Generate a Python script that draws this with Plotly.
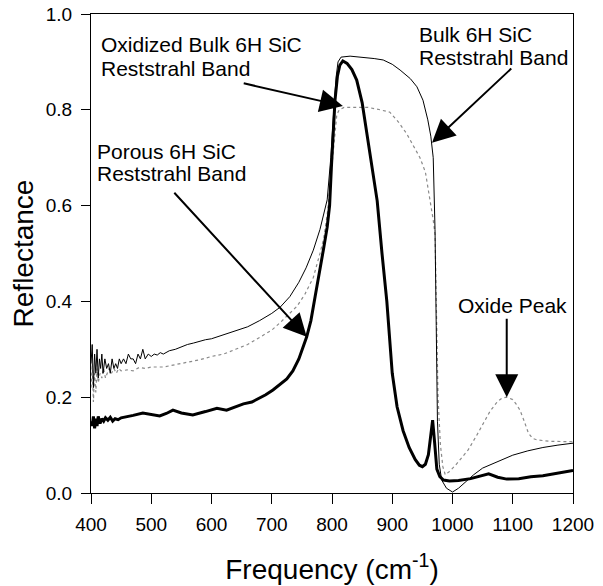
import plotly.graph_objects as go

# Reflectance spectra (frequency in cm^-1)
bulk_freq = [400, 402, 404, 406, 408, 410, 412, 414, 416, 418, 420, 423, 426, 429, 432, 435, 438,
             441, 444, 447, 450, 454, 458, 462, 466, 470, 474, 478, 482, 486, 490, 495, 500, 505,
             510, 515, 520, 530, 540, 550, 560, 570, 580, 590, 600, 620, 640, 660, 680, 700, 714,
             730, 745, 757, 769, 780, 792, 798, 803, 807, 810, 815, 830, 850, 870, 885, 900, 913,
             930, 941, 951, 959, 964, 968, 971, 973, 975, 978, 982, 990, 1000, 1010, 1020, 1035,
             1050, 1075, 1100, 1125, 1150, 1175, 1200]
bulk_refl = [0.27, 0.31, 0.22, 0.29, 0.25, 0.30, 0.24, 0.28, 0.26, 0.29, 0.25, 0.28, 0.26, 0.27,
             0.25, 0.28, 0.26, 0.27, 0.26, 0.28, 0.27, 0.28, 0.27, 0.29, 0.28, 0.28, 0.27, 0.29,
             0.28, 0.30, 0.28, 0.29, 0.285, 0.29, 0.288, 0.293, 0.29, 0.297, 0.30, 0.305, 0.31,
             0.313, 0.317, 0.32, 0.322, 0.33, 0.338, 0.347, 0.36, 0.375, 0.388, 0.41, 0.44, 0.47,
             0.507, 0.55, 0.612, 0.70, 0.80, 0.87, 0.90, 0.91, 0.912, 0.91, 0.907, 0.904, 0.895,
             0.883, 0.865, 0.848, 0.82, 0.779, 0.745, 0.70, 0.55, 0.35, 0.15, 0.06, 0.027, 0.01,
             0.002, 0.01, 0.022, 0.038, 0.052, 0.066, 0.079, 0.088, 0.095, 0.10, 0.104]

oxid_freq = [400, 402, 404, 406, 408, 410, 412, 415, 418, 421, 424, 427, 430, 434, 438, 442, 446,
             450, 460, 470, 480, 490, 500, 520, 540, 560, 580, 600, 620, 640, 660, 680, 700, 715,
             730, 742, 755, 769, 780, 786, 792, 798, 803, 808, 812, 820, 840, 860, 880, 896, 910,
             924, 935, 946, 955, 963, 968, 971, 974, 976, 980, 984, 988, 995, 1005, 1017, 1026,
             1040, 1051, 1062, 1074, 1082, 1090, 1100, 1106, 1112, 1119, 1126, 1133, 1140, 1160,
             1180, 1200]
oxid_refl = [0.22, 0.27, 0.19, 0.25, 0.21, 0.26, 0.23, 0.25, 0.24, 0.26, 0.24, 0.25, 0.26, 0.25,
             0.26, 0.25, 0.26, 0.255, 0.257, 0.255, 0.262, 0.26, 0.263, 0.263, 0.268, 0.272, 0.278,
             0.285, 0.29, 0.30, 0.31, 0.325, 0.34, 0.357, 0.375, 0.39, 0.415, 0.45, 0.50, 0.53,
             0.58, 0.66, 0.74, 0.79, 0.80, 0.805, 0.805, 0.805, 0.80, 0.795, 0.775, 0.75, 0.725,
             0.70, 0.67, 0.61, 0.57, 0.54, 0.33, 0.20, 0.10, 0.055, 0.038, 0.045, 0.058, 0.075,
             0.09, 0.12, 0.146, 0.17, 0.19, 0.198, 0.200, 0.195, 0.185, 0.173, 0.15, 0.125, 0.114,
             0.111, 0.108, 0.108, 0.107]

porous_freq = [400, 402, 404, 406, 408, 410, 412, 415, 418, 421, 424, 428, 432, 436, 440, 445,
               450, 460, 470, 486, 500, 514, 525, 536, 550, 569, 590, 609, 625, 640, 653, 667,
               680, 690, 702, 712, 725, 735, 745, 758, 765, 772, 780, 786, 792, 796, 799, 802,
               805, 809, 813, 818, 825, 833, 841, 850, 858, 866, 875, 883, 891, 900, 908, 918,
               928, 938, 945, 950, 955, 960, 964, 967, 970, 974, 979, 985, 995, 1010, 1030, 1045,
               1060, 1075, 1090, 1110, 1130, 1150, 1175, 1200]
porous_refl = [0.15, 0.14, 0.16, 0.135, 0.155, 0.14, 0.16, 0.145, 0.155, 0.15, 0.157, 0.152,
               0.158, 0.15, 0.155, 0.153, 0.157, 0.159, 0.162, 0.167, 0.164, 0.161, 0.166, 0.173,
               0.167, 0.163, 0.17, 0.177, 0.173, 0.18, 0.186, 0.19, 0.198, 0.205, 0.215, 0.225,
               0.238, 0.255, 0.28, 0.326, 0.36, 0.41, 0.472, 0.51, 0.555, 0.60, 0.68, 0.76, 0.82,
               0.87, 0.893, 0.902, 0.897, 0.884, 0.862, 0.815, 0.75, 0.68, 0.61, 0.50, 0.40, 0.25,
               0.18, 0.13, 0.095, 0.07, 0.058, 0.055, 0.06, 0.08, 0.12, 0.152, 0.11, 0.05, 0.034,
               0.027, 0.025, 0.026, 0.03, 0.035, 0.04, 0.033, 0.029, 0.03, 0.034, 0.036, 0.041,
               0.047]

x_ticks = [400, 500, 600, 700, 800, 900, 1000, 1100, 1200]
y_ticks = [0.0, 0.2, 0.4, 0.6, 0.8, 1.0]

FONT = "Arial, Liberation Sans, sans-serif"
LABEL_SIZE = 21

fig = go.Figure()
fig.add_trace(go.Scatter(x=oxid_freq, y=oxid_refl, mode="lines",
                         line=dict(color="#8a8a8a", width=1.2, dash="dot")))
fig.add_trace(go.Scatter(x=bulk_freq, y=bulk_refl, mode="lines",
                         line=dict(color="black", width=1)))
fig.add_trace(go.Scatter(x=porous_freq, y=porous_refl, mode="lines",
                         line=dict(color="black", width=3)))

# Two-line labels, each line placed on its own: (lines, x, y of each line)
labels = [
    (["Oxidized Bulk 6H SiC", "Reststrahl Band"], 413, [0.936, 0.887]),
    (["Porous 6H SiC", "Reststrahl Band"], 407, [0.713, 0.666]),
    (["Bulk 6H SiC", "Reststrahl Band"], 941, [0.958, 0.909]),
]
for lines, tx, ys in labels:
    for line_text, ty in zip(lines, ys):
        fig.add_annotation(x=tx, y=ty, text=line_text, showarrow=False, xanchor="left",
                           yanchor="middle", align="left",
                           font=dict(family=FONT, size=LABEL_SIZE, color="black"))

fig.add_annotation(x=1099, y=0.392, text="Oxide Peak", showarrow=False,
                   xanchor="center", yanchor="middle",
                   font=dict(family=FONT, size=LABEL_SIZE, color="black"))

# Arrows: (tip x, tip y, tail x, tail y)
arrows = [
    (818, 0.808, 651, 0.856),
    (758, 0.326, 536, 0.630),
    (966, 0.731, 1100, 0.889),
    (1090, 0.200, 1090, 0.367),
]
for hx, hy, sx, sy in arrows:
    fig.add_annotation(x=hx, y=hy, ax=sx, ay=sy, axref="x", ayref="y", text="",
                       showarrow=True, arrowhead=2, arrowsize=2.3, arrowwidth=2,
                       arrowcolor="black", standoff=0)

fig.update_layout(
    width=603, height=586,
    margin=dict(l=91, r=30, t=14, b=93),
    plot_bgcolor="white", paper_bgcolor="white",
    showlegend=False,
    font=dict(family=FONT, size=19, color="black"),
)
fig.update_xaxes(range=[400, 1200], tickvals=x_ticks, ticks="outside", ticklen=10,
                 tickwidth=1, tickcolor="black", ticklabelstandoff=4, automargin=False,
                 tickfont=dict(family=FONT, size=19, color="black"),
                 showline=True, linecolor="black", linewidth=1, mirror=True,
                 showgrid=False, zeroline=False,
                 title=dict(text="Frequency (cm<sup>-1</sup>)",
                            font=dict(family=FONT, size=28, color="black"), standoff=25))
fig.update_yaxes(range=[0, 1.0], tickvals=y_ticks, tickformat=".1f", ticks="outside",
                 ticklen=9, tickwidth=1, tickcolor="black", ticklabelstandoff=5,
                 automargin=False,
                 tickfont=dict(family=FONT, size=19, color="black"),
                 showline=True, linecolor="black", linewidth=1, mirror=True,
                 showgrid=False, zeroline=False,
                 title=dict(text="Reflectance",
                            font=dict(family=FONT, size=28, color="black"), standoff=3))

fig.write_html("out.html")
